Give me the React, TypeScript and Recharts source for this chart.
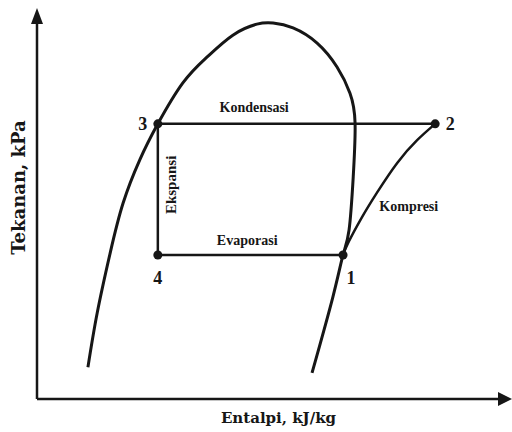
import React from 'react';
import { ComposedChart, Line, Scatter, XAxis, YAxis, ReferenceDot } from 'recharts';

// saturation dome (enthalpy, pressure), left branch -> top -> right branch
const domeH = [11.0, 13.0, 15.8, 18.6, 22.2, 26.1, 31.5, 36.7, 42.3, 47.5, 51.0, 55.3, 60.5, 64.8, 67.6, 68.7, 68.3, 67.4, 66.1, 63.9, 59.4];
const domeP = [8.4, 22.7, 38.5, 51.7, 63.1, 72.6, 83.4, 90.2, 96.0, 98.9, 99.2, 97.9, 93.9, 87.6, 80.7, 72.8, 58.6, 44.6, 38.0, 26.9, 6.9];

// compression 1 -> 2
const compH = [66.1, 67.2, 70.2, 73.4, 77.8, 82.1, 86.0];
const compP = [38.0, 41.2, 48.0, 54.4, 62.3, 68.3, 72.6];

// cycle states
const stateNames = ['1', '2', '3', '4'];
const stateH = [66.1, 86.0, 26.1, 26.1];
const stateP = [38.0, 72.6, 72.6, 38.0];
// condensation 2->3, expansion 3->4, evaporation 4->1
const cycleOrder = [1, 2, 3, 0];

const processNames = ['Kondensasi', 'Evaporasi', 'Ekspansi', 'Kompresi'];
const processH = [46.9, 45.4, 28.9, 80.3];
const processP = [77.0, 41.7, 56.5, 50.9];

const xTitle = 'Entalpi, kJ/kg';
const yTitle = 'Tekanan, kPa';

const dome = domeH.map((h, i) => ({ h, p: domeP[i] }));
const compression = compH.map((h, i) => ({ h, p: compP[i] }));
const states = stateNames.map((name, i) => ({ name, h: stateH[i], p: stateP[i] }));
const cycle = cycleOrder.map((i) => states[i]);

const INK = '#161616';
const SERIF = '"Liberation Serif", "Times New Roman", serif';

const stateLabelOffset: Record<string, [number, number]> = {
  '1': [8, 23],
  '2': [15, 0],
  '3': [-15, 0],
  '4': [0, 23],
};

function StateDot(props: any) {
  const { cx, cy, payload } = props;
  const [dx, dy] = stateLabelOffset[payload.name] || [0, 0];
  return (
    <g>
      <circle cx={cx} cy={cy} r={4.5} fill={INK} />
      <text
        x={cx + dx}
        y={cy + dy}
        textAnchor="middle"
        dominantBaseline="central"
        fontFamily={SERIF}
        fontWeight="bold"
        fontSize={18}
        fill={INK}
      >
        {payload.name}
      </text>
    </g>
  );
}

export default function App() {
  return (
    <div style={{ position: 'absolute', left: 0, top: 0, background: '#fff' }}>
      <ComposedChart width={512} height={432} margin={{ top: 20, right: 12, bottom: 0, left: 0 }}>
        <XAxis
          dataKey="h"
          type="number"
          domain={[0, 100]}
          tick={false}
          tickLine={false}
          height={33}
          axisLine={{ stroke: INK, strokeWidth: 2.5 }}
          label={{
            content: (p: any) => {
              const vb = p.viewBox;
              return (
                <text
                  x={vb.x + vb.width / 2 + 10}
                  y={vb.y + 19}
                  textAnchor="middle"
                  dominantBaseline="central"
                  fontFamily='"DejaVu Serif", serif'
                  fontWeight="bold"
                  fontSize={15}
                  fill={INK}
                >
                  {xTitle}
                </text>
              );
            },
          }}
        />
        <YAxis
          dataKey="p"
          type="number"
          domain={[0, 100]}
          tick={false}
          tickLine={false}
          width={37}
          axisLine={{ stroke: INK, strokeWidth: 2.5 }}
          label={{
            content: (p: any) => {
              const vb = p.viewBox;
              const x = vb.x + 18;
              const y = vb.y + vb.height / 2 - 22;
              return (
                <text
                  x={x}
                  y={y}
                  transform={`rotate(-90 ${x} ${y})`}
                  textAnchor="middle"
                  dominantBaseline="central"
                  fontFamily='"DejaVu Serif", serif'
                  fontWeight="bold"
                  fontSize={18}
                  fill={INK}
                >
                  {yTitle}
                </text>
              );
            },
          }}
        />
        <Line
          data={dome}
          dataKey="p"
          type="natural"
          stroke={INK}
          strokeWidth={3}
          dot={false}
          activeDot={false}
          isAnimationActive={false}
        />
        <Line
          data={compression}
          dataKey="p"
          type="natural"
          stroke={INK}
          strokeWidth={2.5}
          dot={false}
          activeDot={false}
          isAnimationActive={false}
        />
        <Line
          data={cycle}
          dataKey="p"
          type="linear"
          stroke={INK}
          strokeWidth={2.5}
          dot={false}
          activeDot={false}
          isAnimationActive={false}
        />
        <Scatter data={states} dataKey="p" shape={StateDot} isAnimationActive={false} />
        {processNames.map((name, i) => (
          <ReferenceDot
            key={name}
            x={processH[i]}
            y={processP[i]}
            shape={(p: any) => {
              const vertical = name === 'Ekspansi';
              return (
                <text
                  x={p.cx}
                  y={p.cy}
                  transform={vertical ? `rotate(-90 ${p.cx} ${p.cy})` : undefined}
                  textAnchor="middle"
                  dominantBaseline="central"
                  fontFamily={SERIF}
                  fontWeight="bold"
                  fontSize={vertical ? 15 : 14}
                  fill={INK}
                >
                  {name}
                </text>
              );
            }}
          />
        ))}
        <ReferenceDot
          x={100}
          y={0}
          shape={(p: any) => (
            <polygon
              points={`${p.cx - 2},${p.cy - 7} ${p.cx + 12},${p.cy} ${p.cx - 2},${p.cy + 7}`}
              fill={INK}
            />
          )}
        />
        <ReferenceDot
          x={0}
          y={100}
          shape={(p: any) => (
            <polygon
              points={`${p.cx - 6},${p.cy + 4} ${p.cx},${p.cy - 12} ${p.cx + 6},${p.cy + 4}`}
              fill={INK}
            />
          )}
        />
      </ComposedChart>
    </div>
  );
}
